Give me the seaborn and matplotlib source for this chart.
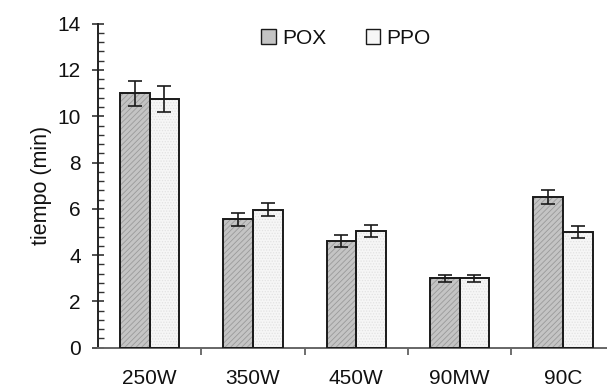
import pandas as pd
import seaborn as sns
import matplotlib.pyplot as plt
from matplotlib.patches import Patch, Rectangle
from matplotlib.ticker import MultipleLocator, FixedLocator

# Data
categorias = ['250W', '350W', '450W', '90MW', '90C']
pox = [11.0, 5.55, 4.6, 3.0, 6.5]
pox_err = [0.54, 0.28, 0.25, 0.15, 0.3]
ppo = [10.75, 5.97, 5.05, 3.0, 5.0]
ppo_err = [0.56, 0.3, 0.25, 0.15, 0.25]
series = ['POX', 'PPO']

df = pd.DataFrame({
    'cat': categorias * 2,
    'serie': ['POX'] * len(categorias) + ['PPO'] * len(categorias),
    'tiempo': pox + ppo,
})

sns.set_style('ticks')
plt.rcParams['font.family'] = ['Liberation Sans', 'DejaVu Sans']
plt.rcParams['hatch.linewidth'] = 0.6

fig = plt.figure(figsize=(6.07, 3.89), dpi=100)
ax = fig.add_axes([98 / 607, 41.3 / 389, 516.5 / 607, 324 / 389])

colores = {'POX': '#c4c4c4', 'PPO': '#f6f6f6'}
hatch_col = {'POX': '#9a9a9a', 'PPO': '#e2e2e2'}
hatches = {'POX': '//////', 'PPO': '......'}

sns.barplot(data=df, x='cat', y='tiempo', hue='serie', hue_order=series,
            order=categorias, palette=colores, width=0.575, ax=ax,
            errorbar=None, legend=False, saturation=1)

errs = {'POX': (pox, pox_err), 'PPO': (ppo, ppo_err)}
for cont, s in zip(ax.containers, series):
    xs = []
    for p in cont:
        p.set_edgecolor(hatch_col[s])
        p.set_hatch(hatches[s])
        p.set_linewidth(0)
        ax.add_patch(Rectangle(p.get_xy(), p.get_width(), p.get_height(),
                               fill=False, edgecolor='#1a1a1a', lw=1.4, zorder=3))
        xs.append(p.get_x() + p.get_width() / 2)
    vals, e = errs[s]
    ax.errorbar(xs, vals, yerr=e, fmt='none', ecolor='#1a1a1a',
                elinewidth=1.2, capsize=5, capthick=1.2, zorder=4)

ax.set_xlim(-0.5, 4.5)
ax.set_ylim(0, 14)
ax.yaxis.set_major_locator(MultipleLocator(2))
ax.yaxis.set_minor_locator(MultipleLocator(0.4))
ax.xaxis.set_minor_locator(FixedLocator([0.5, 1.5, 2.5, 3.5]))
ax.tick_params(axis='y', which='major', direction='inout', length=8.6,
               width=1.2, labelsize=15, pad=8, color='#333333',
               labelcolor='#111111')
ax.tick_params(axis='y', which='minor', direction='in', length=4.3,
               width=1, color='#333333')
ax.tick_params(axis='x', which='major', length=0, labelsize=15, pad=15,
               labelcolor='#111111')
ax.tick_params(axis='x', which='minor', direction='out', length=5,
               width=1.2, color='#555555')

for side in ['top', 'right']:
    ax.spines[side].set_visible(False)
for side in ['left', 'bottom']:
    ax.spines[side].set_linewidth(1.4)
ax.spines['left'].set_color('#222222')
ax.spines['bottom'].set_color('#666666')

ax.set_xlabel('')
ax.set_ylabel('tiempo (min)', fontsize=15.5, labelpad=4, color='#111111')

handles = [Patch(facecolor=colores[s], edgecolor='#1a1a1a', hatch=None, lw=1)
           for s in series]
ax.legend(handles, series, loc='center', bbox_to_anchor=(0.48, 0.955),
          ncol=2, frameon=False, fontsize=15, handlelength=0.7,
          handleheight=0.7, handletextpad=0.3, columnspacing=1.9,
          labelcolor='#111111')

fig.savefig('out.png', dpi=100)
